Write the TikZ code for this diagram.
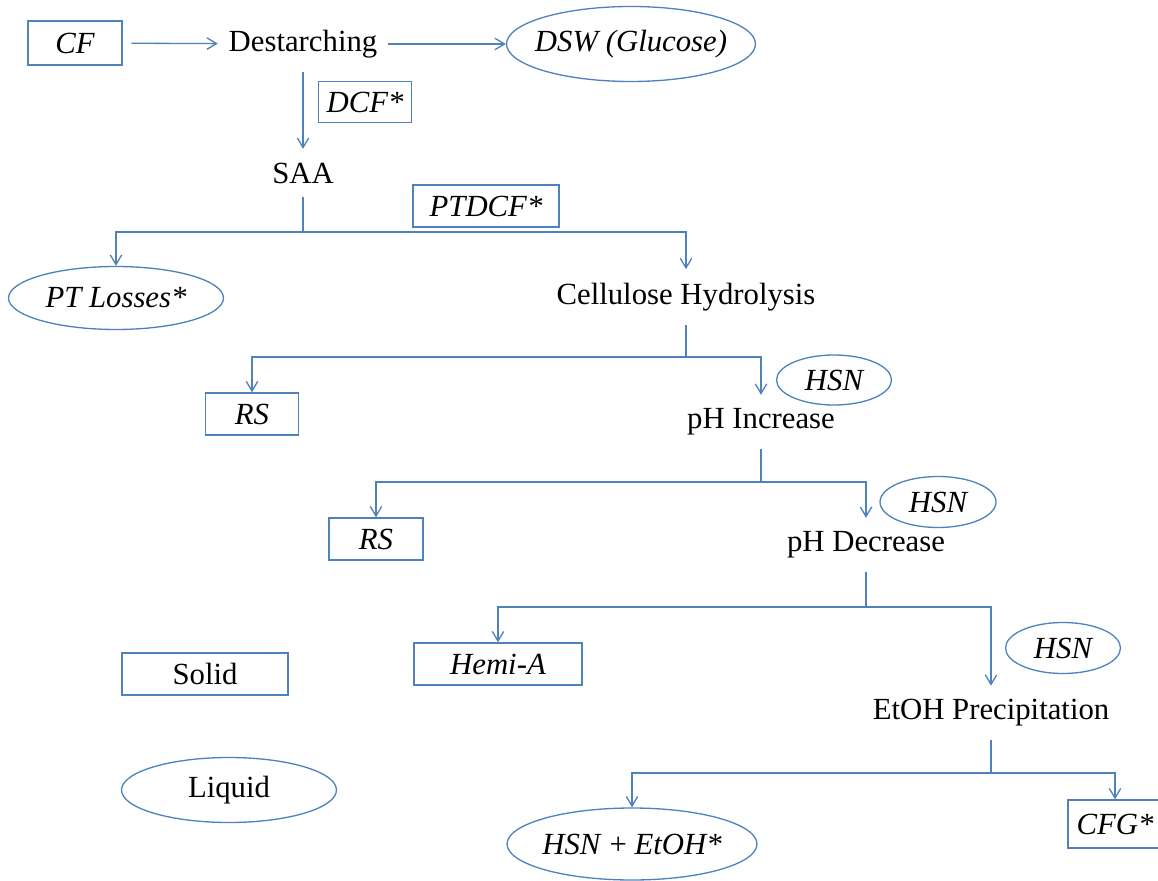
\documentclass[tikz,border=0pt]{standalone}
\usepackage{fontspec}
\setmainfont{Liberation Serif}
\usetikzlibrary{arrows.meta, shapes.geometric}
\definecolor{cblue}{HTML}{4F81BD}
\tikzset{
  every picture/.style={font=\fontsize{17.5}{21}\selectfont, line width=0.75pt},
  box/.style={draw=cblue, rectangle, align=center, inner sep=4pt},
  oval/.style={draw=cblue, ellipse, inner xsep=-10pt, inner ysep=0pt},
  stage/.style={inner xsep=5.8pt, inner ysep=7.5pt},
  arrow/.style={-{Straight Barb[length=5.5pt, width=6.5pt]}, draw=cblue},
  link/.style={draw=cblue},
}

\begin{document}
\begin{tikzpicture}[x=0.02cm, y=-0.02cm,
                    lab/.style={font=\fontsize{17.5}{21}\selectfont\itshape}]
  \useasboundingbox (0,0) rectangle (1158,881);
  \clip (0,0) rectangle (1158,881);
  \node[box, lab, minimum width=1.88cm, minimum height=0.88cm] (cf) at (75,43) {CF};
  \node[stage] (dest) at (303,44) {Destarching};
  \node[oval, lab, minimum width=4.98cm, minimum height=1.5cm] (dsw) at (631,44) {DSW (Glucose)};
  \node[box, lab, minimum width=1.86cm, minimum height=0.82cm] (dcf) at (365,102) {DCF*};
  \node[stage] (saa) at (303,173) {SAA};
  \node[box, lab, minimum width=2.92cm, minimum height=0.84cm] (ptdcf) at (486,206) {PTDCF*};
  \node[oval, lab, minimum width=4.3cm, minimum height=1.26cm] (ptl) at (116,298) {PT Losses*};
  \node[stage] (cell) at (686,297) {Cellulose Hydrolysis};
  \node[box, lab, minimum width=1.86cm, minimum height=0.84cm] (rs1) at (252,414) {RS};
  \node[oval, lab, minimum width=2.3cm, minimum height=1.0cm] (hsn1) at (834,380) {HSN};
  \node[stage] (phi) at (761,422) {pH Increase};
  \node[box, lab, minimum width=1.88cm, minimum height=0.84cm] (rs2) at (376,539) {RS};
  \node[oval, lab, minimum width=2.32cm, minimum height=1.02cm] (hsn2) at (938,502) {HSN};
  \node[stage] (phd) at (866,545) {pH Decrease};
  \node[box, lab, minimum width=3.36cm, minimum height=0.84cm] (hemi) at (498,664) {Hemi-A};
  \node[oval, lab, minimum width=2.3cm, minimum height=1.02cm] (hsn3) at (1063,648) {HSN};
  \node[stage] (etoh) at (991,713) {EtOH Precipitation};
  \node[oval, minimum width=5.0cm, minimum height=1.44cm] (hsne) at (632,844) {\textit{HSN} + \textit{EtOH*}};
  \node[box, lab, minimum width=1.88cm, minimum height=0.96cm] (cfg) at (1115,824) {CFG*};
  \node[box, minimum width=3.32cm, minimum height=0.84cm] (solid) at (205,674) {Solid};
  \node[oval, minimum width=4.3cm, minimum height=1.3cm] (liquid) at (229,790) {Liquid};
  \coordinate (j1) at (303,232);
  \coordinate (j2) at (686,357);
  \coordinate (j3) at (761,482);
  \coordinate (j4) at (866,607);
  \coordinate (j5) at (991,773);
  \draw[arrow, shorten <=5pt] (cf) -- (dest);
  \draw[arrow] (dest) -- (dsw);
  \draw[arrow] (dest) -- (saa);
  \draw[link] (saa) -- (j1);
  \draw[arrow] (j1) -| (ptl);
  \draw[arrow] (j1) -| (cell);
  \draw[link] (cell) -- (j2);
  \draw[arrow] (j2) -| (rs1);
  \draw[arrow] (j2) -| (phi);
  \draw[link] (phi) -- (j3);
  \draw[arrow] (j3) -| (rs2);
  \draw[arrow] (j3) -| (phd);
  \draw[link] (phd) -- (j4);
  \draw[arrow] (j4) -| (hemi);
  \draw[arrow] (j4) -| (etoh);
  \draw[link] (etoh) -- (j5);
  \draw[arrow] (j5) -| (hsne);
  \draw[arrow] (j5) -| (cfg);
\end{tikzpicture}
\end{document}
